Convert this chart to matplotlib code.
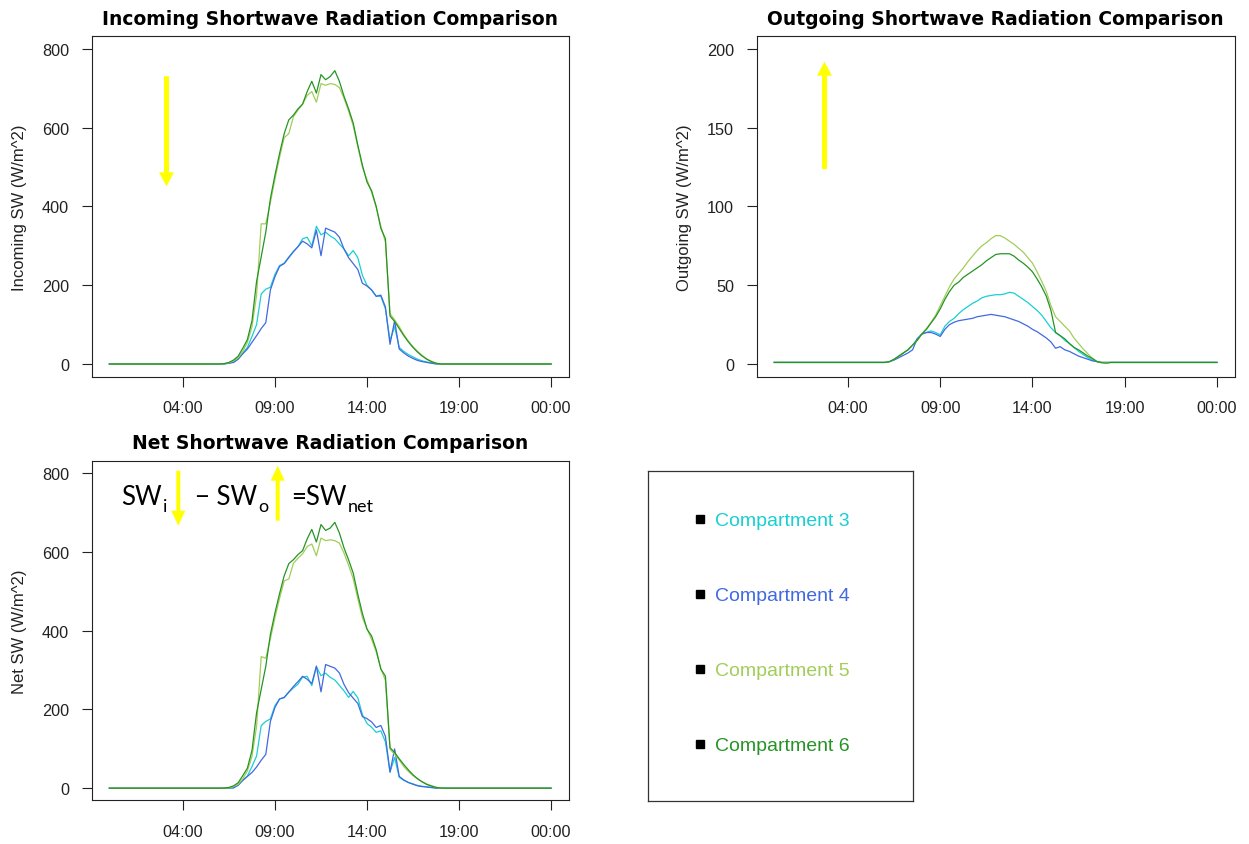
import numpy as np
import matplotlib
matplotlib.use("Agg")
import matplotlib.pyplot as plt
from matplotlib.patches import FancyArrow
from matplotlib.transforms import IdentityTransform

# --- data: 15-minute readings (W/m^2) ---
clock = ["00:00",
         "06:00", "06:15", "06:30", "06:45", "07:00", "07:15", "07:30", "07:45",
         "08:00", "08:15", "08:30", "08:45", "09:00", "09:15", "09:30", "09:45",
         "10:00", "10:15", "10:30", "10:45", "11:00", "11:15", "11:30", "11:45",
         "12:00", "12:15", "12:30", "12:45", "13:00", "13:15", "13:30", "13:45",
         "14:00", "14:15", "14:30", "14:45", "15:00", "15:15", "15:30", "15:45",
         "16:00", "16:15", "16:30", "16:45", "17:00", "17:15", "17:30", "17:45",
         "18:00", "18:15", "18:30",
         "24:00"]

in_c3 = [0,
         0, 1, 2, 5, 14, 28, 42, 70,
         100, 178, 190, 195, 228, 250, 256, 272,
         286, 298, 318, 322, 300, 350, 328, 335,
         325, 318, 305, 292, 275, 288, 270, 225,
         200, 188, 172, 172, 140, 60, 95, 42,
         32, 24, 18, 12, 8, 5, 3, 1,
         0, 0, 0,
         0]
in_c4 = [0,
         0, 0, 2, 4, 12, 26, 38, 55,
         72, 90, 105, 188, 222, 248, 255, 270,
         285, 298, 312, 305, 295, 340, 275, 345,
         340, 335, 322, 292, 270, 255, 240, 205,
         198, 188, 172, 175, 145, 50, 110, 38,
         28, 20, 14, 9, 6, 4, 2, 0,
         0, 0, 0,
         0]
in_c5 = [0,
         0, 1, 3, 8, 16, 32, 55, 95,
         175, 356, 356, 410, 470, 525, 575, 585,
         628, 645, 660, 682, 692, 665, 712, 708,
         712, 710, 702, 675, 642, 605, 552, 500,
         468, 436, 398, 350, 310, 128, 112, 95,
         75, 58, 44, 32, 22, 13, 7, 2,
         0, 0, 0,
         0]
in_c6 = [0,
         0, 1, 4, 10, 20, 40, 62, 110,
         210, 272, 335, 420, 480, 535, 585, 620,
         632, 648, 660, 692, 718, 688, 735, 722,
         730, 745, 718, 680, 648, 612, 556, 505,
         462, 440, 400, 345, 318, 122, 108, 90,
         72, 56, 42, 30, 20, 12, 6, 2,
         0, 0, 0,
         0]

out_c3 = [1,
          1, 1.5, 3, 5, 7, 9, 12, 16,
          19, 20, 21, 20, 18.5, 24, 27, 29,
          32, 34.5, 36.5, 38.5, 40, 42, 43, 43.5,
          44, 44, 44.5, 45.5, 45, 43, 41, 39,
          36.5, 34, 31, 27, 23, 20, 18, 15,
          13, 10.5, 8, 6, 4, 2.5, 1.5, 1,
          1, 1, 1,
          1]
out_c4 = [1,
          1, 1.5, 2.5, 4, 5.5, 7, 9, 16,
          19, 20, 20, 19, 17.5, 22, 25, 26.5,
          27.5, 28, 28.5, 29, 30, 30.5, 31, 31.5,
          31, 30.5, 30, 29, 28, 27, 25.5, 24,
          22, 20.5, 18.5, 16.5, 14, 10, 11, 9,
          8, 6.5, 5, 4, 3, 2, 1.5, 1,
          1, 1, 1,
          1]
out_c5 = [1,
          1, 1.5, 3, 5, 7, 9, 12, 15,
          19, 22.5, 26.5, 31, 37, 43, 49, 54,
          57.5, 61, 65, 68.5, 72, 75, 77, 79.5,
          81.5, 81.5, 80, 78, 76, 73.5, 71, 67.5,
          64, 58.5, 52.5, 46, 37, 30, 27, 24,
          21, 16.5, 13, 9.5, 6.5, 3.5, 1.5, 1,
          1, 1, 1,
          1]
out_c6 = [1,
          1, 1.5, 3, 5, 7, 9, 12, 15,
          19, 22, 26, 30, 35, 41, 46, 50,
          52, 55, 57, 59, 61, 63, 65.5, 67.5,
          69.5, 70, 70, 70, 68.5, 66, 64, 61.5,
          58.5, 54, 49, 43, 34, 20, 18, 16,
          13, 10.5, 9, 7, 5, 3.5, 1.5, 0.8,
          0.5, 1, 1,
          1]

names = ["Compartment 3", "Compartment 4", "Compartment 5", "Compartment 6"]
colors = ["#19CFD2", "#4169E1", "#A2CD5A", "#259425"]
tick_hours = [4, 9, 14, 19, 24]
tick_labels = ["04:00", "09:00", "14:00", "19:00", "00:00"]

hours = np.array([int(c[:2]) + int(c[3:]) / 60 for c in clock])
incoming = [np.array(s, float) for s in (in_c3, in_c4, in_c5, in_c6)]
outgoing = [np.array(s, float) for s in (out_c3, out_c4, out_c5, out_c6)]
net = [i - o for i, o in zip(incoming, outgoing)]

W, H = 1249, 845
fig = plt.figure(figsize=(W / 100, H / 100), dpi=100, facecolor="white")


def box(x0, y0, x1, y1):
    # pixel box (image coords, y down) -> figure fraction
    return [x0 / W, 1 - y1 / H, (x1 - x0) / W, (y1 - y0) / H]


def panel(rect, series, top, yticks, title, ylabel):
    ax = fig.add_axes(box(*rect))
    for s, c in zip(series, colors):
        ax.plot(hours, s, color=c, lw=0.9)
    ax.set_xlim(-0.96, 24.96)
    ax.set_ylim(-0.04 * top, 1.04 * top)
    ax.set_xticks(tick_hours)
    ax.set_xticklabels(tick_labels)
    ax.set_yticks(yticks)
    ax.tick_params(direction="out", length=7.2, width=0.8, color="#222222",
                   labelsize=11.7, labelcolor="#222222")
    ax.tick_params(axis="x", pad=10)
    ax.tick_params(axis="y", pad=9)
    for lab in ax.get_xticklabels() + ax.get_yticklabels():
        lab.set_family("Liberation Sans")
    for sp in ax.spines.values():
        sp.set_linewidth(0.8)
        sp.set_color("#222222")
    ax.set_title(title, fontsize=13.5, fontweight="bold", family="DejaVu Sans", pad=9)
    ax.set_ylabel(ylabel, fontsize=12, family="Liberation Sans", labelpad=11,
                  color="#222222")
    return ax


panel((91.7, 37.4, 568.7, 377.6), incoming, 800, [0, 200, 400, 600, 800],
      "Incoming Shortwave Radiation Comparison", "Incoming SW (W/m^2)")
panel((756.5, 37.4, 1234.7, 377.6), outgoing, 200, [0, 50, 100, 150, 200],
      "Outgoing Shortwave Radiation Comparison", "Outgoing SW (W/m^2)")
panel((91.7, 461.6, 568.7, 801.4), net, 800, [0, 200, 400, 600, 800],
      "Net Shortwave Radiation Comparison", "Net SW (W/m^2)")

# legend panel
leg = fig.add_axes(box(647.7, 471.7, 913.3, 801.7))
leg.set_xlim(0, 1)
leg.set_ylim(0, 1)
leg.set_xticks([])
leg.set_yticks([])
for sp in leg.spines.values():
    sp.set_linewidth(0.9)
    sp.set_color("#333333")
for k, (n, c) in enumerate(zip(names, colors)):
    yy = 1 - (521.7 + 75 * k - 471.7) / 330
    leg.plot([0.197], [yy + 0.006], marker="s", ms=6, color="black", ls="none")
    leg.text(0.254, yy, n, color=c, fontsize=14, family="Liberation Sans",
             va="center", ha="left")


# yellow arrows (pixel coords, image y down)
def arrow(x, y_tail, y_tip, shaft=5, head_w=15, head_l=14):
    a = FancyArrow(x, H - y_tail, 0, -(y_tip - y_tail), width=shaft,
                   head_width=head_w, head_length=head_l,
                   length_includes_head=True, color="#FFFF00", lw=0,
                   transform=IdentityTransform())
    fig.add_artist(a)


arrow(166.5, 77.3, 187.3)
arrow(824.5, 170, 62.7)
arrow(178.3, 471.7, 526.7, shaft=4, head_w=14, head_l=15)
arrow(277.7, 521.7, 466.7, shaft=4, head_w=14, head_l=15)

# SW budget text: main word at its place, subscript right after it
renderer = fig.canvas.get_renderer()
base = 1 - 505 / H
sub = 1 - 512 / H
for x, word, s in [(121.0, "SW", "i"), (195.0, "\u2212 SW", "o"), (291.0, "=SW", "net")]:
    t = fig.text(x / W, base, word, fontsize=18.5, family="Lato", color="black",
                 ha="left", va="baseline")
    end = t.get_window_extent(renderer).x1
    fig.text((end + 1.5) / W, sub, s, fontsize=13, family="Lato", color="black",
             ha="left", va="baseline")

fig.savefig("out.png", dpi=100, facecolor="white")
